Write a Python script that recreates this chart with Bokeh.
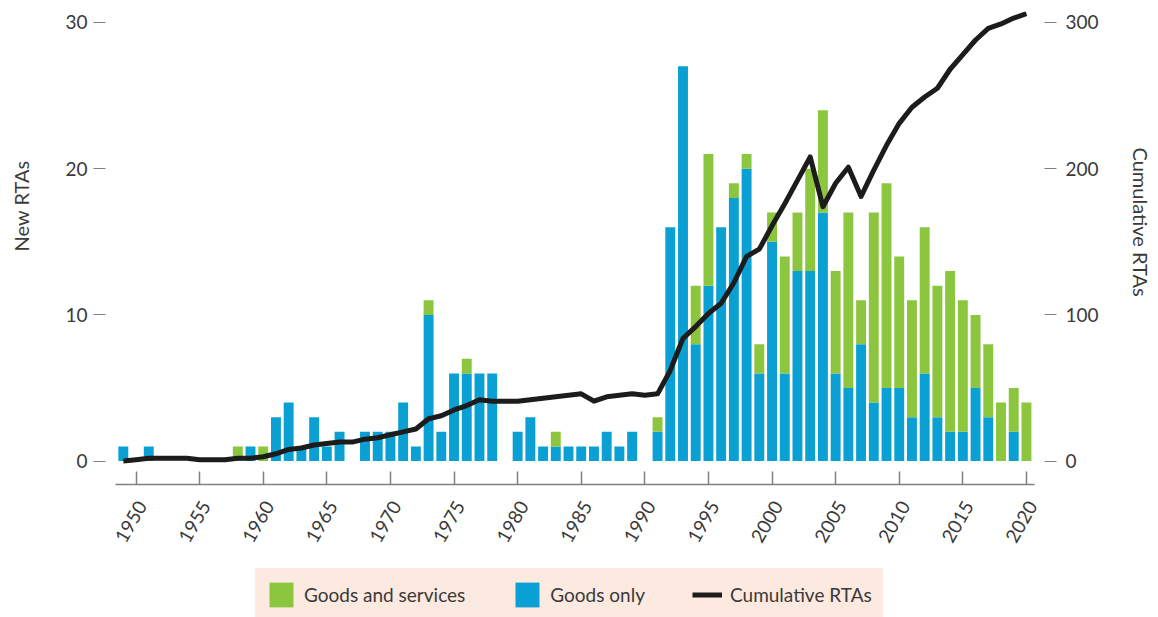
import math
from bokeh.plotting import figure
from bokeh.layouts import column
from bokeh.models import (ColumnDataSource, Range1d, LinearAxis, FixedTicker,
                          Legend, LegendItem, Title)
from bokeh.embed import file_html
from bokeh.resources import INLINE

# ---------------- data ----------------
years = list(range(1949, 2021))
goods_only = [1, 0, 1, 0, 0, 0, 0, 0, 0, 0, 1,           # 1949-1959
              0, 3, 4, 1, 3, 1, 2, 0, 2, 2,              # 1960-1969
              2, 4, 1, 10, 2, 6, 6, 6, 6, 0,             # 1970-1979
              2, 3, 1, 1, 1, 1, 1, 2, 1, 2,              # 1980-1989
              0, 2, 16, 27, 8, 12, 16, 18, 20, 6,        # 1990-1999
              15, 6, 13, 13, 17, 6, 5, 8, 4, 5,          # 2000-2009
              5, 3, 6, 3, 2, 2, 5, 3, 0, 2,              # 2010-2019
              0]                                         # 2020
goods_services = [0, 0, 0, 0, 0, 0, 0, 0, 0, 1, 0,       # 1949-1959
                  1, 0, 0, 0, 0, 0, 0, 0, 0, 0,          # 1960-1969
                  0, 0, 0, 1, 0, 0, 1, 0, 0, 0,          # 1970-1979
                  0, 0, 0, 1, 0, 0, 0, 0, 0, 0,          # 1980-1989
                  0, 1, 0, 0, 4, 9, 0, 1, 1, 2,          # 1990-1999
                  2, 8, 4, 7, 7, 7, 12, 3, 13, 14,       # 2000-2009
                  9, 8, 10, 9, 11, 9, 5, 5, 4, 3,        # 2010-2019
                  4]                                     # 2020
cumulative = [0, 1, 2, 2, 2, 2, 1, 1, 1, 2, 2,
              3, 5, 8, 9, 11, 12, 13, 13, 15, 16,
              18, 20, 22, 29, 31, 35, 38, 42, 41, 41,
              41, 42, 43, 44, 45, 46, 41, 44, 45, 46,
              45, 46, 62, 84, 92, 101, 108, 122, 140, 145,
              161, 176, 192, 208, 174, 190, 201, 181, 199, 216,
              231, 242, 249, 255, 268, 278, 288, 296, 299, 303,
              306]
x_ticks = [1950, 1955, 1960, 1965, 1970, 1975, 1980, 1985, 1990, 1995,
           2000, 2005, 2010, 2015, 2020]
left_ticks = [0, 10, 20, 30]
right_ticks = [0, 100, 200, 300]

source = ColumnDataSource(dict(year=years, goods=goods_only,
                               gs=goods_services, cum=cumulative))

BLUE = "#0aa0d4"
GREEN = "#8cc63f"
LINE = "#1c1c1c"
TEXT = "#3a3a3a"
GREY = "#808080"
LEGEND_BG = "#fce9df"
FONT = "Lato"
TICK_FS = "19px"

X0, X1 = 1947.6, 2021.42
LAB_SHIFT = 0.45

p = figure(width=1158, height=565, output_backend="svg", toolbar_location=None,
           x_range=Range1d(X0, X1), y_range=Range1d(-1.6, 30.75),
           min_border_left=100, min_border_right=108, min_border_top=11,
           min_border_bottom=81)
p.extra_y_ranges = {"cum": Range1d(-16, 307.5)}
p.extra_x_ranges = {"lab": Range1d(X0 - LAB_SHIFT, X1 - LAB_SHIFT)}
p.outline_line_color = None
p.xgrid.visible = False
p.ygrid.visible = False

bars = p.vbar_stack(["goods", "gs"], x="year", width=0.78, source=source,
                    color=[BLUE, GREEN], line_color=None)
line = p.line("year", "cum", source=source, y_range_name="cum",
              line_width=5, line_color=LINE, line_join="round")

# x axis: line + ticks
xa = p.xaxis[0]
xa.ticker = FixedTicker(ticks=x_ticks)
xa.bounds = (1948.38, 2020.64)
xa.major_tick_in = 13
xa.major_tick_out = 0
xa.minor_tick_line_color = None
xa.axis_line_color = GREY
xa.axis_line_width = 1.5
xa.major_tick_line_color = GREY
xa.major_tick_line_width = 1.5
xa.major_label_overrides = {t: "" for t in x_ticks}
xa.major_label_standoff = 0

# x axis: rotated year labels
xl = LinearAxis(x_range_name="lab", ticker=FixedTicker(ticks=x_ticks))
xl.axis_line_color = None
xl.major_tick_line_color = None
xl.minor_tick_line_color = None
xl.major_label_orientation = math.pi / 3
xl.major_label_text_font = FONT
xl.major_label_text_font_size = TICK_FS
xl.major_label_text_color = TEXT
xl.major_label_standoff = 12
p.add_layout(xl, "below")

# left axis
ya = p.yaxis[0]
ya.ticker = FixedTicker(ticks=left_ticks)
ya.axis_line_color = None
ya.major_tick_in = 0
ya.major_tick_out = 12
ya.minor_tick_line_color = None
ya.major_tick_line_color = GREY
ya.major_label_text_font = FONT
ya.major_label_text_font_size = TICK_FS
ya.major_label_text_color = TEXT
ya.major_label_standoff = 6

# right axis
ra = LinearAxis(y_range_name="cum", ticker=FixedTicker(ticks=right_ticks))
ra.axis_line_color = None
ra.major_tick_in = 0
ra.major_tick_out = 12
ra.minor_tick_line_color = None
ra.major_tick_line_color = GREY
ra.major_label_text_font = FONT
ra.major_label_text_font_size = TICK_FS
ra.major_label_text_color = TEXT
ra.major_label_standoff = 9
p.add_layout(ra, "right")

# axis titles (spacer + title on each side)
p.add_layout(Title(text=" ", text_font_size="1px", standoff=21), "left")
p.add_layout(Title(text="New RTAs", align="right", offset=149, standoff=12,
                   text_font=FONT, text_font_size="20px",
                   text_font_style="normal", text_color=TEXT), "left")
p.add_layout(Title(text=" ", text_font_size="1px", standoff=20), "right")
p.add_layout(Title(text="Cumulative RTAs", align="left", offset=136, standoff=8,
                   text_font=FONT, text_font_size="20px",
                   text_font_style="normal", text_color=TEXT), "right")

# legend strip
q = figure(width=1158, height=52, output_backend="svg", toolbar_location=None,
           x_range=Range1d(0, 1), y_range=Range1d(0, 1),
           x_axis_type=None, y_axis_type=None, min_border=0)
q.outline_line_color = None
q.xgrid.visible = False
q.ygrid.visible = False
# legend proxies: zero-height / off-strip, only their styles are shown
g_gs = q.vbar(x=[0.5], bottom=[0], top=[0], width=0.1, color=GREEN, line_color=None)
g_go = q.vbar(x=[0.5], bottom=[0], top=[0], width=0.1, color=BLUE, line_color=None)
g_ln = q.line(x=[0.5, 0.5], y=[5, 6], line_width=5, line_color=LINE)

legend = Legend(items=[LegendItem(label="Goods and services", renderers=[g_gs]),
                       LegendItem(label="Goods only", renderers=[g_go]),
                       LegendItem(label="Cumulative RTAs", renderers=[g_ln])],
                orientation="horizontal", location=(150, -4),
                background_fill_color=LEGEND_BG, background_fill_alpha=1,
                border_line_color=LEGEND_BG, border_line_width=1,
                glyph_width=30, glyph_height=31,
                label_height=31, label_standoff=8, spacing=47, padding=10,
                margin=0, label_text_font=FONT, label_text_font_size="19px",
                label_text_color=TEXT)
q.add_layout(legend, "center")

layout = column(p, q, spacing=0)
open("out.html", "w").write(file_html(layout, INLINE))
